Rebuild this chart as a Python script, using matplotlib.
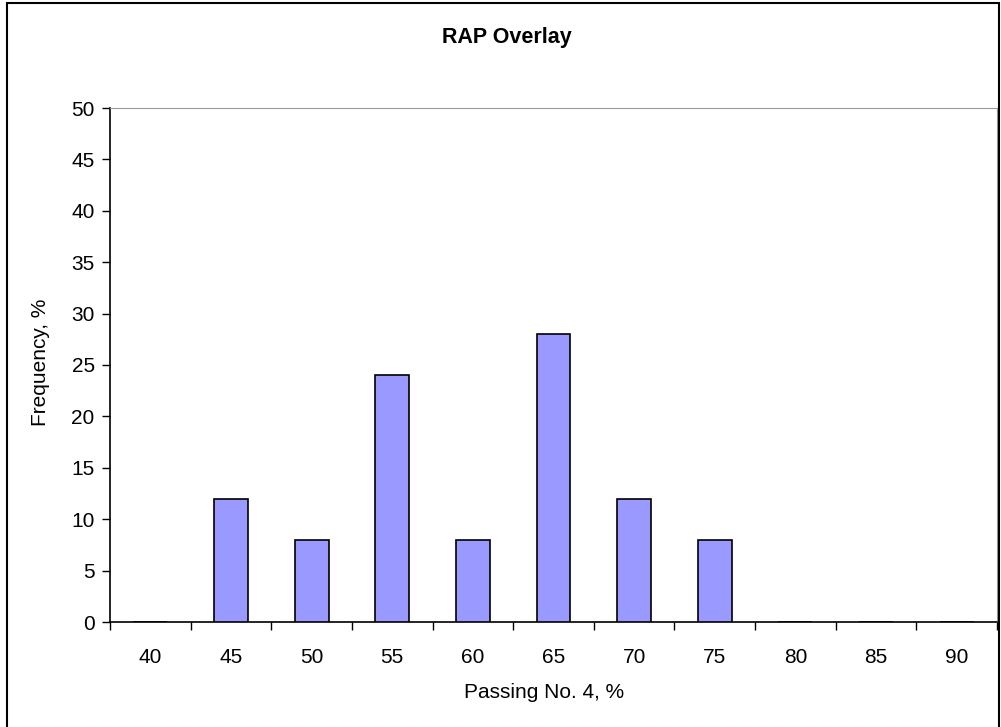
import matplotlib

matplotlib.use("Agg")
import matplotlib.pyplot as plt  # noqa: E402
from matplotlib.patches import Rectangle  # noqa: E402

# values
categories = ["40", "45", "50", "55", "60", "65", "70", "75", "80", "85", "90"]
frequency = [0, 12, 8, 24, 8, 28, 12, 8, 0, 0, 0]
y_ticks = [0, 5, 10, 15, 20, 25, 30, 35, 40, 45, 50]

plt.rcParams["font.family"] = ["Liberation Sans", "DejaVu Sans"]

W, H = 1001, 727
fig = plt.figure(figsize=(W / 100, H / 100), dpi=100)
ax = fig.add_axes([110 / W, 1 - 622 / H, 887 / W, 514 / H])

x = list(range(len(categories)))
ax.bar(x, frequency, width=0.42, color="#9999FF", edgecolor="black", linewidth=1.2,
       zorder=3)

ax.set_xlim(-0.5, len(categories) - 0.5)
ax.set_ylim(0, 50)
ax.set_yticks(y_ticks)
ax.set_xticks(x)
ax.set_xticklabels(categories)
ax.set_xticks([i - 0.5 for i in range(len(categories) + 1)], minor=True)
ax.tick_params(axis="x", which="major", length=0, pad=19, labelsize=15)
ax.tick_params(axis="x", which="minor", length=6, width=1, direction="out")
ax.tick_params(axis="y", length=6, width=1, direction="out", labelsize=15, pad=5)

for side in ["top", "right"]:
    ax.spines[side].set_color("#999999")
for side in ["left", "bottom"]:
    ax.spines[side].set_color("black")
    ax.spines[side].set_linewidth(1.2)

ax.set_xlabel("Passing No. 4, %", fontsize=15, va="center")
ax.xaxis.set_label_coords(544 / W, 1 - 692 / H, transform=fig.transFigure)
ax.set_ylabel("Frequency, %", fontsize=15, va="center")
ax.yaxis.set_label_coords(40 / W, 1 - 362 / H, transform=fig.transFigure)
fig.text(507 / W, 1 - 37 / H, "RAP Overlay", ha="center", va="center",
         fontsize=15.5, fontweight="bold")

# outer chart border (bottom edge falls just off the canvas in the reference)
fig.patches.append(Rectangle((7 / W, -3 / H), 992 / W, 727 / H,
                             transform=fig.transFigure, fill=False,
                             edgecolor="black", linewidth=1.5))

fig.savefig("out.png", dpi=100)
